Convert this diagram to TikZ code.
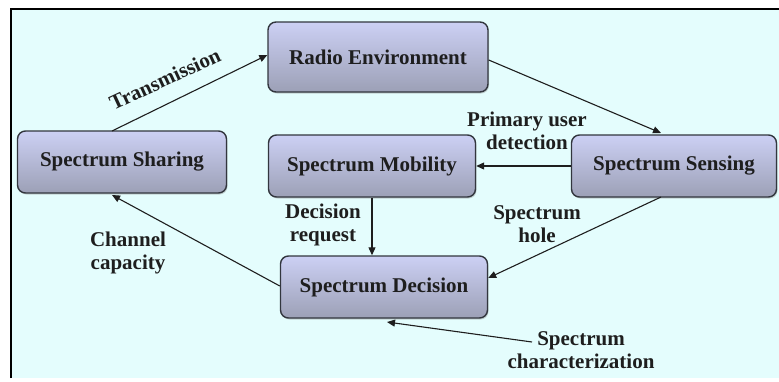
\documentclass[tikz,border=0pt]{standalone}
\usepackage{fontspec}
\setmainfont{Liberation Serif}
\usetikzlibrary{arrows.meta,shadows}
\definecolor{bgcyan}{RGB}{228,253,253}
\definecolor{boxtop}{RGB}{204,208,244}
\definecolor{boxbot}{RGB}{156,160,182}
\definecolor{boxline}{RGB}{50,54,62}
\definecolor{inkc}{RGB}{30,30,30}
\tikzset{
  blk/.style={draw=boxline, line width=1.4pt, rounded corners=8pt,
    top color=boxtop, bottom color=boxbot, minimum height=62pt,
    font=\bfseries\fontsize{21}{23}\selectfont, text=inkc,
    drop shadow={shadow xshift=1pt, shadow yshift=-1.5pt, opacity=0.35}},
  lbl/.style={font=\bfseries\fontsize{21}{23}\selectfont, text=inkc, align=center},
  arr/.style={-{Triangle[length=8pt,width=7pt]}, line width=1.1pt, draw=inkc}
}
\begin{document}
\begin{tikzpicture}[x=1pt,y=-1pt]
\useasboundingbox (0,0) rectangle (779,381);
\fill[white] (0,0) rectangle (779,381);
\fill[bgcyan] (11,9) rectangle (779,378);
\draw[black, line width=1.8pt] (11,378) -- (11,9) -- (779,9);
% boxes
\node[blk, minimum width=220pt, minimum height=70pt] (radio) at (378,57) {Radio Environment};
\node[blk, minimum width=209pt] (sharing) at (122,162) {Spectrum Sharing};
\node[blk, minimum width=207pt] (mobility) at (372,166) {Spectrum Mobility};
\node[blk, minimum width=205pt] (sensing) at (674,166) {Spectrum Sensing};
\node[blk, minimum width=207pt] (decision) at (384,287) {Spectrum Decision};
% free end coordinate
\coordinate (charstart) at (532,342);
% connectors
\draw[arr] (112,131) -- (radio.west |- 0,55);
\draw[arr] (radio.east |- 0,60) -- (661,133);
\draw[arr] (sensing.west) -- (mobility.east);
\draw[arr] (mobility.south) -- (decision.north -| mobility.south);
\draw[arr] (661,197) -- (decision.east |- 0,278);
\draw[arr] (decision.west |- 0,286) -- (112,195);
\draw[arr] (charstart) -- (387,322);
% labels
\node[lbl, rotate=25] (ltrans) at (165,79) {Transmission};
\node[lbl] (lprim) at (527,131) {Primary user\\detection};
\node[lbl] (ldec) at (323,225) {Decision\\request};
\node[lbl] (lhole) at (537,224) {Spectrum\\hole};
\node[lbl] (lchan) at (128,253) {Channel\\capacity};
\node[lbl] (lchar) at (581,350) {Spectrum\\characterization};
\end{tikzpicture}
\end{document}
